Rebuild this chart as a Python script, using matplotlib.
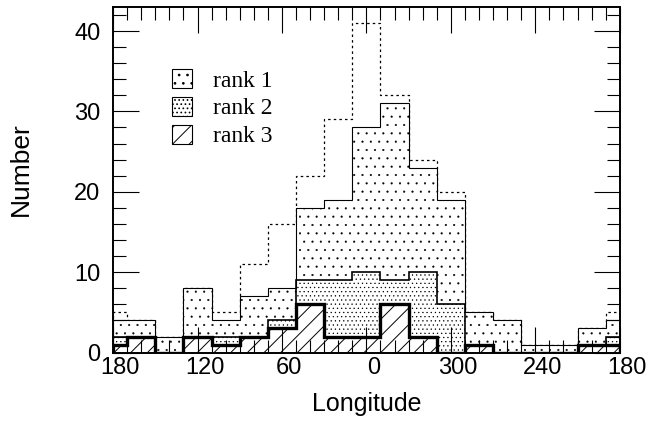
import numpy as np
import matplotlib.pyplot as plt
from matplotlib.patches import Patch
from matplotlib.ticker import MultipleLocator
from matplotlib.transforms import ScaledTranslation

# 20 degree bins, centres in the order they run from left to right
lon = np.array([180, 160, 140, 120, 100, 80, 60, 40, 20, 0,
                340, 320, 300, 280, 260, 240, 220, 200])
total = [5, 4, 2, 8, 5, 11, 16, 22, 29, 41, 32, 24, 20, 5, 4, 1, 1, 3]
rank1 = [4, 4, 2, 8, 4, 7, 8, 18, 19, 28, 31, 23, 19, 5, 4, 1, 1, 3]
rank2 = [2, 2, 0, 2, 2, 2, 4, 9, 9, 10, 9, 10, 6, 1, 0, 0, 0, 1]
rank3 = [1, 2, 0, 2, 1, 2, 3, 6, 2, 2, 6, 2, 0, 1, 0, 0, 0, 1]

tick_pos = [180, 120, 60, 0, -60, -120, -180]
tick_labels = ['180', '120', '60', '0', '300', '240', '180']
legend_labels = ['rank 1', 'rank 2', 'rank 3']


def wrap(values, width=20):
    # the bin at 180 is split over both ends of the axis
    x = np.where(lon > 180, lon - 360, lon)
    order = np.argsort(x)
    xs = x[order]
    v = np.asarray(values, float)[order]
    edges = np.r_[-180, xs[:-1] - width / 2, 180 - width / 2, 180]
    vals = np.r_[v[-1], v[:-1], v[-1]]
    return vals, edges


def thin_hatch(p, lw):
    if hasattr(p, 'set_hatch_linewidth'):
        p.set_hatch_linewidth(lw)
    return p


plt.rcParams['font.family'] = ['Liberation Sans', 'DejaVu Sans']
plt.rcParams['hatch.linewidth'] = 0.7

fig, ax = plt.subplots(figsize=(6.65, 4.30), dpi=100)
fig.subplots_adjust(left=0.170, right=0.932, bottom=0.180, top=0.984)

v, e = wrap(total)
ax.stairs(v, e, color='k', lw=0.9, linestyle=(0, (2, 2.5)))

hatches = ['..', '....', '//']
hatch_lw = [0.3, 0.4, 0.7]
widths = [0.8, 1.2, 2.4]
for vals, h, hl in zip([rank1, rank2, rank3], hatches, hatch_lw):
    v, e = wrap(vals)
    p = ax.stairs(v, e, fill=True, facecolor='white', edgecolor='k', lw=0, hatch=h)
    thin_hatch(p, hl)
for vals, w in zip([rank1, rank2, rank3], widths):
    v, e = wrap(vals)
    ax.stairs(v, e, color='k', lw=w)

ax.set_xlim(180, -180)
ax.set_ylim(0, 43)
ax.set_xticks(tick_pos)
ax.set_xticklabels(tick_labels)
ax.xaxis.set_minor_locator(MultipleLocator(10))
ax.yaxis.set_major_locator(MultipleLocator(10))
ax.yaxis.set_minor_locator(MultipleLocator(2))

ax.tick_params(which='both', direction='in', top=True, right=True, width=0.8)
ax.tick_params(which='major', length=19, labelsize=17)
ax.tick_params(which='minor', length=9.5)
ax.tick_params(axis='y', pad=9)
ax.tick_params(axis='x', pad=3)
for lab in ax.get_xticklabels():
    lab.set_transform(lab.get_transform() + ScaledTranslation(0.07, 0, fig.dpi_scale_trans))
for s in ax.spines.values():
    s.set_linewidth(1.4)

ax.set_xlabel('Longitude', fontsize=18)
ax.set_ylabel('Number', fontsize=19)
ax.xaxis.set_label_coords(0.5, -0.115)
ax.yaxis.set_label_coords(-0.158, 0.53)

handles = [thin_hatch(Patch(facecolor='white', edgecolor='k', hatch=h, lw=0.8, label=l), hl)
           for h, hl, l in zip(hatches, hatch_lw, legend_labels)]
ax.legend(handles=handles, loc='upper left', bbox_to_anchor=(0.116, 0.82),
          frameon=False, prop={'family': 'Liberation Serif', 'size': 17},
          handlelength=0.85, handleheight=0.85, handletextpad=0.9,
          labelspacing=0.22, borderpad=0, borderaxespad=0)

fig.savefig('out.png', dpi=100)
